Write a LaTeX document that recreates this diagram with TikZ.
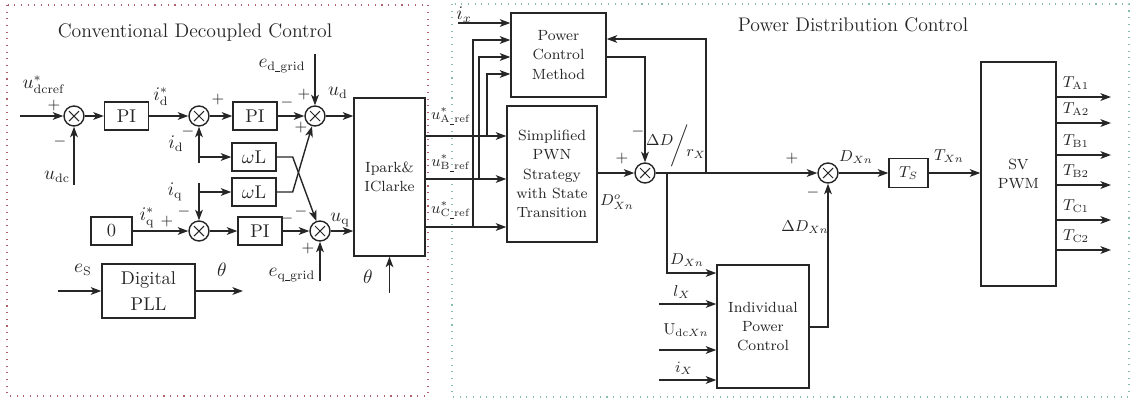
\documentclass[tikz,border=0pt]{standalone}
\usepackage{xcolor}
\usepackage{tikz}
\usetikzlibrary{positioning, arrows.meta}
\definecolor{ink}{HTML}{262626}
\definecolor{framered}{HTML}{B0606A}
\definecolor{frameteal}{HTML}{86BDB0}
\newcommand{\titleF}{\fontsize{11.2}{13.5}\selectfont}
\newcommand{\bigF}{\fontsize{10.5}{14.5}\selectfont}
\newcommand{\boxF}{\fontsize{8.4}{11}\selectfont}
\newcommand{\lblF}{\fontsize{9}{10}\selectfont}
\newcommand{\usc}{\rule[-0.2ex]{0.28em}{0.3pt}}

\begin{document}
\begin{tikzpicture}[x=0.02cm, y=-0.02cm, color=ink, line width=0.8pt,
    blk/.style={draw, inner sep=0pt, align=center, font=\boxF},
    bigblk/.style={draw, inner sep=0pt, align=center, font=\bigF},
    piblk/.style={bigblk, minimum width=0.88cm, minimum height=0.56cm},
    sumnode/.style={circle, draw, minimum size=0.4cm, inner sep=0pt,
      path picture={\draw[line width=0.6pt]
        ([shift={(-0.1cm,-0.1cm)}]path picture bounding box.center) --
        ([shift={(0.1cm,0.1cm)}]path picture bounding box.center)
        ([shift={(-0.1cm,0.1cm)}]path picture bounding box.center) --
        ([shift={(0.1cm,-0.1cm)}]path picture bounding box.center);}},
    sig/.style={-{Stealth[length=6pt,width=4.4pt,inset=1.6pt]}},
    lbl/.style={inner sep=0pt, font=\bigF},
    slbl/.style={inner sep=0pt, font=\lblF},
    sgn/.style={inner sep=0pt, font=\lblF},
    frame/.style={line width=0.9pt, dash pattern=on 0.6pt off 3.2pt}]
  \useasboundingbox (0,0) rectangle (1132,400);

  % frames and titles
  \draw[frame, framered] (7,5) rectangle (428,396);
  \draw[frame, frameteal] (452,4) rectangle (1129,397);
  \node[font=\titleF] (ttlleft) at (195,32) {Conventional Decoupled Control};
  \node[font=\titleF] (ttlright) at (853,25) {Power Distribution Control};

  % conventional decoupled control
  \node[sumnode] (sumdc) at (74,116) {};
  \node[piblk] (pidc) at (126.5,116) {PI};
  \node[sumnode] (sumid) at (199,116) {};
  \node[piblk] (pid) at (255,116) {PI};
  \node[sumnode] (sumud) at (315,116) {};
  \node[piblk] (wl1) at (254,157) {$\omega$L};
  \node[piblk] (wl2) at (254,192) {$\omega$L};
  \node[bigblk, minimum width=0.82cm, minimum height=0.56cm] (zero) at (111.5,231) {0};
  \node[sumnode] (sumiq) at (199,231) {};
  \node[piblk] (piq) at (260,231) {PI};
  \node[sumnode] (sumuq) at (320,231) {};
  \node[blk, minimum width=1.42cm, minimum height=3.16cm] (ipark) at (389.5,177) {Ipark\&\\IClarke};
  \node[bigblk, minimum width=1.86cm, minimum height=1.08cm] (pll) at (148.5,291) {Digital\\PLL};

  \coordinate (udcin) at (20,116);
  \coordinate (udcbot) at (74,185);
  \coordinate (idin) at (199,163);
  \coordinate (iqin) at (199,183);
  \coordinate (edin) at (315,54);
  \coordinate (eqin) at (320,281);
  \coordinate (thin) at (389.5,293);
  \coordinate (esin) at (58,291);
  \coordinate (thout) at (243,291);

  \draw[sig] (udcin) -- (sumdc);
  \draw[sig] (udcbot) -- (sumdc);
  \draw[sig] (sumdc) -- (pidc);
  \draw[sig] (pidc) -- (sumid);
  \draw[sig] (sumid) -- (pid);
  \draw[sig] (pid) -- (sumud);
  \draw[sig] (sumud) -- (sumud -| ipark.west);
  \draw[sig] (idin) -- (sumid);
  \draw[sig] (idin |- wl1) -- (wl1);
  \draw[sig] (iqin) -- (sumiq);
  \draw[sig] (iqin |- wl2) -- (wl2);
  \draw[sig] (wl1.east) -- ++(16,0) -- (sumuq);
  \draw[sig] (wl2.east) -- ++(16,0) -- (sumud);
  \draw[sig] (zero) -- (sumiq);
  \draw[sig] (sumiq) -- (piq);
  \draw[sig] (piq) -- (sumuq);
  \draw[sig] (sumuq) -- (sumuq -| ipark.west);
  \draw[sig] (edin) -- (sumud);
  \draw[sig] (eqin) -- (sumuq);
  \draw[sig] (thin) -- (ipark.south);
  \draw[sig] (esin) -- (pll);
  \draw[sig] (pll) -- (thout);

  \node[lbl] (ludcref) at (44,85) {$u^{*}_{\mathrm{dcref}}$};
  \node[sgn] (p1) at (54,106) {$+$};
  \node[sgn] (m1) at (60,142) {$-$};
  \node[lbl] (ludc) at (57,177) {$u_{\mathrm{dc}}$};
  \node[lbl] (lidref) at (161,97) {$i^{*}_{\mathrm{d}}$};
  \node[lbl] (lid) at (176,144) {$i_{\mathrm{d}}$};
  \node[sgn] (m2) at (188,132) {$-$};
  \node[sgn] (p2) at (218,100) {$+$};
  \node[sgn] (m3) at (287,103) {$-$};
  \node[sgn] (p3) at (304,95) {$+$};
  \node[sgn] (p4) at (301,128) {$+$};
  \node[lbl] (ledg) at (282,66) {$e_{\mathrm{d\usc grid}}$};
  \node[lbl] (lud) at (338,93) {$u_{\mathrm{d}}$};
  \node[lbl] (liq) at (175,192) {$i_{\mathrm{q}}$};
  \node[lbl] (liqref) at (147,218) {$i^{*}_{\mathrm{q}}$};
  \node[sgn] (p5) at (167,222) {$+$};
  \node[sgn] (m4) at (184,212) {$-$};
  \node[sgn] (m5) at (287,219) {$-$};
  \node[sgn] (m6) at (301,212) {$-$};
  \node[sgn] (p6) at (308,249) {$+$};
  \node[lbl] (luq) at (340,220) {$u_{\mathrm{q}}$};
  \node[lbl] (leqg) at (292,275) {$e_{\mathrm{q\usc grid}}$};
  \node[lbl] (lthi) at (368,277) {$\theta$};
  \node[lbl] (les) at (83,270) {$e_{\mathrm{S}}$};
  \node[lbl] (ltho) at (222,270) {$\theta$};

  % power distribution control
  \node[blk, minimum width=1.9cm, minimum height=1.68cm] (pcm) at (558.5,55) {Power\\Control\\Method};
  \node[blk, minimum width=1.8cm, minimum height=2.72cm] (simp) at (552,174)
    {Simplified\\PWN\\Strategy\\with State\\Transition};
  \node[sumnode] (sumd) at (645,173) {};
  \node[sumnode] (sumx) at (828,173) {};
  \node[blk, minimum width=1.84cm, minimum height=2.46cm] (ipc) at (763,326.5) {Individual\\Power\\Control};
  \node[draw, inner sep=0pt, font=\lblF, minimum width=0.78cm, minimum height=0.58cm] (ts) at (908.5,173) {$T_S$};
  \node[blk, minimum width=1.5cm, minimum height=4.48cm] (sv) at (1018.5,174) {SV\\PWM};

  \coordinate (ixin) at (458,23);
  \coordinate (fb) at (706,173);
  \coordinate (br) at (667,173);

  \draw[sig] (ixin) -- (ixin -| pcm.west);
  \foreach \yy/\xx/\yp in {136/487/74, 179/479/57, 227/473/40} {
    \draw[sig] (ipark.east |- 0,\yy) -- (simp.west |- 0,\yy);
    \draw[sig] (\xx,\yy) |- (pcm.west |- 0,\yp);
  }
  \draw[sig] (simp.east |- sumd) -- (sumd);
  \draw[sig] (pcm.east |- 0,57) -| (sumd);
  \draw[sig] (sumd) -- (sumx);
  \draw[sig] (fb) |- (pcm.east |- 0,39);
  \draw[sig] (br) |- (ipc.west |- 0,273);
  \foreach \nm/\yy in {lx/304, ud/350, ix/380} {
    \coordinate (in\nm) at (659,\yy);
    \draw[sig] (in\nm) -- (in\nm -| ipc.west);
  }
  \draw[sig] (ipc.east |- 0,327) -| (sumx);
  \draw[sig] (sumx) -- (sumx -| ts.west);
  \draw[sig] (ts) -- (ts -| sv.west);
  \foreach \yy/\lab in {97/A1, 123/A2, 155/B1, 185/B2, 220/C1, 250/C2} {
    \coordinate (out\lab) at (1111,\yy);
    \draw[sig] (sv.east |- out\lab) -- (out\lab);
    \node[slbl] (t\lab) at (1076,\yy-14) {$T_{\mathrm{\lab}}$};
  }

  \node[lbl] (lix) at (464,15) {$i_{x}$};
  \node[slbl] (lua) at (451,116) {$u^{*}_{\mathrm{A\usc ref}}$};
  \node[slbl] (lub) at (451,163) {$u^{*}_{\mathrm{B\usc ref}}$};
  \node[slbl] (luc) at (451,210) {$u^{*}_{\mathrm{C\usc ref}}$};
  \node[sgn] (m7) at (638,132) {$-$};
  \node[sgn] (p7) at (622,159) {$+$};
  \node[slbl] (ldo) at (617,202) {$D^{o}_{Xn}$};
  \node[slbl] (ldr) at (676,146) {$\raisebox{0.7ex}{$\Delta D$}\!\bigg/\!\raisebox{-0.9ex}{$r_X$}$};
  \node[sgn] (p8) at (792,159) {$+$};
  \node[sgn] (m8) at (813,193) {$-$};
  \node[slbl] (ldd) at (805,227) {$\Delta D_{Xn}$};
  \node[slbl] (ldx) at (856,157) {$D_{Xn}$};
  \node[slbl] (ltx) at (949,156) {$T_{Xn}$};
  \node[slbl] (ldxb) at (687,260) {$D_{Xn}$};
  \node[slbl] (llx) at (682,292) {$l_X$};
  \node[slbl] (ludx) at (686,330) {$\mathrm{U}_{\mathrm{dc}Xn}$};
  \node[slbl] (lixb) at (684,368) {$i_X$};
\end{tikzpicture}
\end{document}
